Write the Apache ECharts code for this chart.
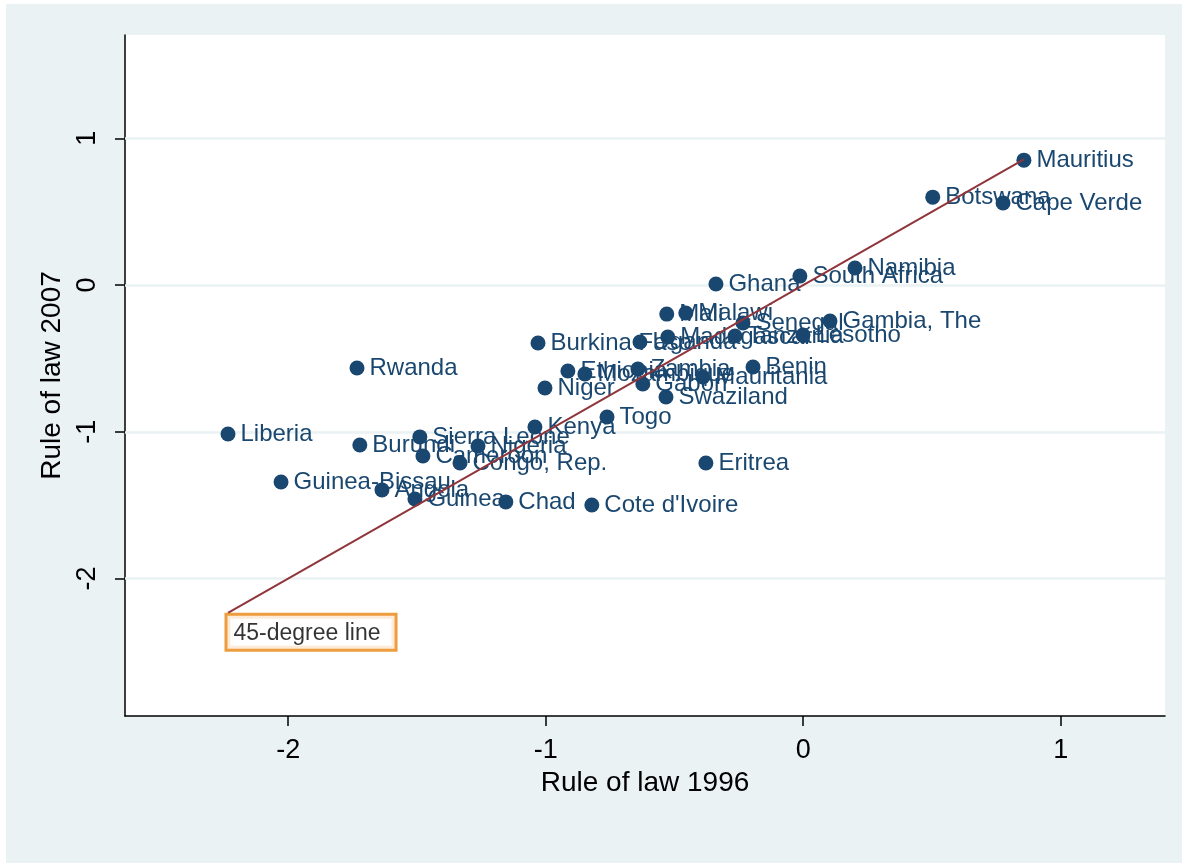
<!DOCTYPE html>
<html>
<head>
<meta charset="utf-8">
<script src="https://cdn.jsdelivr.net/npm/echarts@6/dist/echarts.min.js"></script>
<style>
  html, body { margin: 0; padding: 0; background: #fff; }
  #chart { position: absolute; left: 6px; top: 4px; width: 1176px; height: 859px; }
</style>
</head>
<body>
<div id="chart"></div>
<script>
// rule of law scores, sub-saharan africa
var countries = ['Mauritius', 'Botswana', 'Cape Verde', 'Namibia', 'South Africa', 'Ghana',
  'Gambia, The', 'Senegal', 'Malawi', 'Mali', 'Madagascar', 'Tanzania', 'Lesotho', 'Uganda',
  'Burkina Faso', 'Benin', 'Ethiopia', 'Mozambique', 'Zambia', 'Gabon', 'Mauritania',
  'Swaziland', 'Niger', 'Togo', 'Kenya', 'Rwanda', 'Liberia', 'Burundi', 'Sierra Leone',
  'Nigeria', 'Cameroon', 'Congo, Rep.', 'Eritrea', 'Guinea-Bissau', 'Angola', 'Guinea',
  'Chad', "Cote d'Ivoire"];
var law1996 = [0.857, 0.503, 0.776, 0.201, -0.013, -0.339,
  0.104, -0.234, -0.456, -0.530, -0.526, -0.265, -0.001, -0.634,
  -1.030, -0.195, -0.914, -0.848, -0.642, -0.623, -0.390,
  -0.533, -1.003, -0.762, -1.042, -1.733, -2.234, -1.722, -1.489,
  -1.263, -1.477, -1.333, -0.378, -2.028, -1.636, -1.508,
  -1.155, -0.821];
var law2007 = [0.851, 0.599, 0.559, 0.116, 0.061, 0.007,
  -0.245, -0.259, -0.191, -0.198, -0.354, -0.347, -0.341, -0.388,
  -0.395, -0.559, -0.586, -0.606, -0.572, -0.674, -0.627,
  -0.763, -0.702, -0.899, -0.967, -0.565, -1.015, -1.090, -1.035,
  -1.097, -1.165, -1.213, -1.213, -1.342, -1.396, -1.458,
  -1.478, -1.499];
var xTicks = [-2, -1, 0, 1];
var yTicks = [-2, -1, 0, 1];

var FONT = '"Liberation Sans", Arial, Helvetica, sans-serif';
var NAVY = '#1a476f';

var pts = countries.map(function (c, i) { return [law1996[i], law2007[i], c]; });
var lo = Math.min.apply(null, law1996);
var hi = Math.max.apply(null, law1996);

var chart = echarts.init(document.getElementById('chart'));
chart.setOption({
  backgroundColor: '#eaf2f3',
  animation: false,
  grid: { left: 119, right: 17, top: 31, bottom: 147, show: true, backgroundColor: '#fff', borderWidth: 0 },
  xAxis: {
    type: 'value', min: -2.634, max: 1.405,
    name: 'Rule of law 1996', nameLocation: 'middle', nameGap: 50,
    nameTextStyle: { color: '#000', fontSize: 28, fontFamily: FONT },
    axisLine: { onZero: false, lineStyle: { color: '#000', width: 1.5 } },
    axisTick: { length: 10, lineStyle: { color: '#000', width: 1.5 }, customValues: xTicks },
    axisLabel: { color: '#000', fontSize: 27, fontFamily: FONT, margin: 21, customValues: xTicks },
    splitLine: { show: false }
  },
  yAxis: {
    type: 'value', min: -2.937, max: 1.704,
    name: 'Rule of law 2007', nameLocation: 'middle', nameGap: 58,
    nameTextStyle: { color: '#000', fontSize: 28, fontFamily: FONT },
    axisLine: { onZero: false, lineStyle: { color: '#000', width: 1.5 } },
    axisTick: { length: 10, lineStyle: { color: '#000', width: 1.5 }, customValues: yTicks },
    axisLabel: { color: '#000', fontSize: 27, fontFamily: FONT, margin: 24, rotate: 90, customValues: yTicks },
    splitLine: { show: false }
  },
  series: [
    {
      type: 'line', data: [], z: 1, silent: true,
      markLine: {
        z: 1, silent: true, symbol: 'none', label: { show: false },
        lineStyle: { color: '#eaf2f3', width: 2.5, type: 'solid' },
        data: yTicks.map(function (v) { return { yAxis: v }; })
      }
    },
    {
      type: 'scatter', z: 3,
      data: pts,
      symbolSize: 15,
      itemStyle: { color: NAVY, opacity: 1 },
      label: {
        show: true, position: 'right', distance: 5,
        color: NAVY, fontSize: 24, fontFamily: FONT,
        formatter: function (p) { return p.data[2]; }
      }
    },
    {
      // 45-degree line, drawn over the markers
      type: 'line', z: 6,
      data: [[lo, lo], [hi, hi]],
      showSymbol: false, symbol: 'none',
      lineStyle: { color: '#90353b', width: 2 }
    },
    {
      type: 'scatter', z: 7,
      data: [[lo, lo]],
      symbolSize: 1,
      itemStyle: { color: 'rgba(0,0,0,0)' },
      label: {
        show: true, position: [0, 3.5],
        formatter: '45-degree line',
        color: '#000', fontSize: 23, fontFamily: FONT,
        backgroundColor: '#fff', borderColor: '#e8830e', borderWidth: 3,
        padding: [6, 14, 4, 6]
      }
    }
  ]
});
</script>
</body>
</html>
